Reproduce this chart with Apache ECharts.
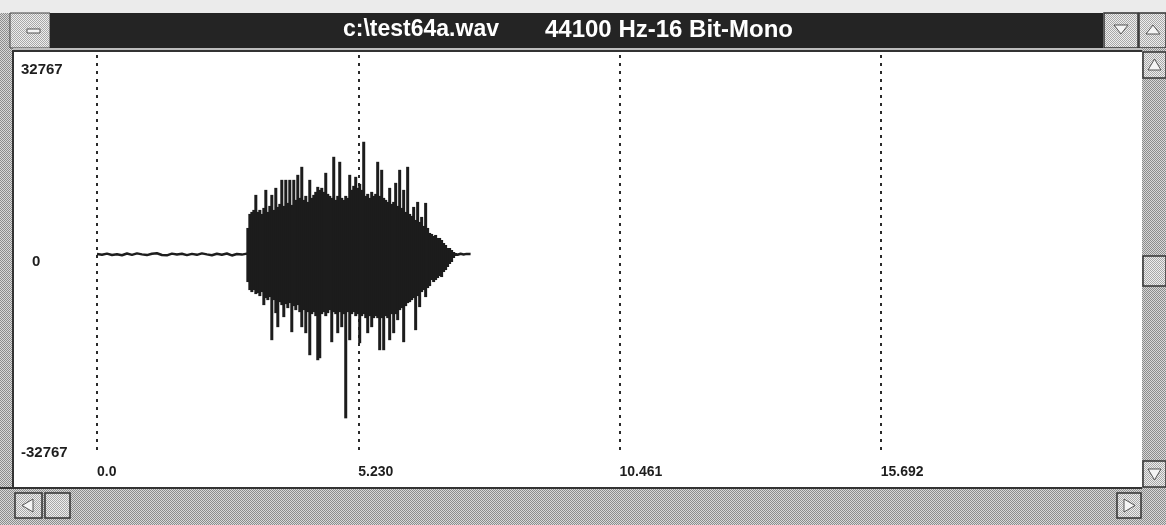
<!DOCTYPE html>
<html><head><meta charset="utf-8">
<style>html,body{margin:0;padding:0;background:#e9e9e9;overflow:hidden}#chart{width:1166px;height:525px}</style>
<script src="https://cdn.jsdelivr.net/npm/echarts@6.0.0/dist/echarts.min.js"></script>
</head><body><div id="chart"></div>
<script>
// ---- text ----
const titleFile = 'c:\\test64a.wav';
const titleFormat = '44100 Hz-16 Bit-Mono';

// ---- axes ----
const xTickLabels = ['0.0', '5.230', '10.461', '15.692'];
const xTickStep = 5.2307;
const xMax = 20.9228;
const yTickValues = [32767, 0, -32767];
const yTickLabels = ['32767', '0', '-32767'];

// ---- quiet lead-in and tail (seconds, amplitude); null breaks the line under the burst ----
const quietTime = [0.00,0.10,0.20,0.30,0.40,0.50,0.60,0.70,0.80,0.90,1.00,1.10,1.20,1.30,1.40,1.50,1.60,1.70,1.80,1.90,2.00,2.10,2.20,2.30,2.40,2.50,2.60,2.70,2.80,2.90,3.00,3.04,5.10,7.16,7.22,7.28,7.34,7.40,7.48];
const quietValue = [0,-120,60,-160,-40,-200,80,-140,100,-60,-180,40,120,-160,-220,60,-80,40,-180,20,-140,100,-60,-200,40,-120,80,-240,0,-100,60,0,null,0,-120,40,-80,20,0];

// ---- burst: sample time, upper and lower extent ----
const burstTime = [3.02,3.06,3.10,3.14,3.18,3.22,3.26,3.30,3.34,3.38,
3.42,3.46,3.50,3.54,3.58,3.62,3.66,3.70,3.74,3.78,
3.82,3.86,3.90,3.94,3.98,4.02,4.06,4.10,4.14,4.18,
4.22,4.26,4.30,4.34,4.38,4.42,4.46,4.50,4.54,4.58,
4.62,4.66,4.70,4.74,4.78,4.82,4.86,4.90,4.94,4.98,
5.02,5.06,5.10,5.14,5.18,5.22,5.26,5.30,5.34,5.38,
5.42,5.46,5.50,5.54,5.58,5.62,5.66,5.70,5.74,5.78,
5.82,5.86,5.90,5.94,5.98,6.02,6.06,6.10,6.14,6.18,
6.22,6.26,6.30,6.34,6.38,6.42,6.46,6.50,6.54,6.58,
6.62,6.66,6.70,6.74,6.78,6.82,6.86,6.90,6.94,6.98,
7.02,7.06,7.10,7.14,7.18];
const burstMax = [4290,6600,6930,7260,9735,6930,7260,6600,7590,10560,
6930,7920,9735,7260,10890,7755,8250,12210,7920,12210,
8415,12210,8085,12210,8910,13035,9240,14355,8910,9570,
8580,12210,9240,9735,10230,11055,10560,10890,10230,13365,
9900,9570,9240,16005,8910,9570,15180,9240,8910,9570,
9240,13035,10560,11220,12705,10890,11550,10560,18480,9570,
9900,9240,10230,9570,9900,15180,9570,13860,9240,8910,
8580,10890,8250,8580,11715,7920,13860,7590,10560,6930,
14355,6600,6270,7755,5610,8580,5280,6105,4620,8415,
4290,3465,3300,2970,3135,2640,2640,2310,1815,1485,
990,990,660,330,165];
const burstMin = [-4620,-5940,-6270,-5940,-6600,-6435,-6930,-6270,-8415,-7260,
-7590,-7095,-14190,-7590,-9735,-12045,-7920,-8415,-10395,-8250,
-8910,-8085,-12870,-8580,-9240,-8415,-9570,-12045,-9240,-13035,
-9570,-16665,-9900,-9570,-10230,-17490,-17160,-9900,-9570,-10230,
-9735,-9240,-14520,-9570,-9900,-13035,-9570,-12045,-9900,-27060,
-9570,-14190,-9900,-9570,-10230,-9900,-14685,-10230,-9900,-10560,
-13035,-10230,-12045,-10560,-10230,-10560,-15840,-10560,-15840,-10230,
-10560,-14190,-9900,-13035,-9900,-10890,-9240,-8910,-14520,-8580,
-8085,-7920,-7590,-7260,-12540,-6930,-8745,-6270,-5940,-7095,
-5610,-5280,-4290,-4620,-4290,-3960,-3630,-3795,-2970,-2640,
-2145,-1650,-1320,-660,-330];

// ---- window chrome helpers ----
function dither(c1, c2) {
  const cv = document.createElement('canvas');
  cv.width = 2; cv.height = 2;
  const ctx = cv.getContext('2d');
  ctx.fillStyle = c1; ctx.fillRect(0, 0, 2, 2);
  ctx.fillStyle = c2; ctx.fillRect(0, 0, 1, 1); ctx.fillRect(1, 1, 1, 1);
  return { image: cv, repeat: 'repeat' };
}
const DG = dither('#d8d8d8', '#8c8c8c');
const DL = dither('#eeeeee', '#a8a8a8');
function rect(x, y, w, h, fill, stroke, lw, z) {
  return { type: 'rect', shape: { x, y, width: w, height: h }, silent: true, z: z || -5,
    style: { fill: fill, stroke: stroke || null, lineWidth: lw || 0 } };
}
function tri(pts, z) {
  return { type: 'polygon', shape: { points: pts }, silent: true, z: z || -4,
    style: { fill: '#f4f4f4', stroke: '#555', lineWidth: 1 } };
}
const chrome = [
  rect(0, 0, 1166, 13, '#ebebeb'),
  rect(0, 13, 13, 475, DG),
  rect(10, 13, 40, 35, DL, '#444', 1),
  rect(27, 29, 13, 4, '#f2f2f2', '#555', 1, -4),
  rect(50, 13, 1053, 35, '#242424'),
  rect(1104, 13, 34, 35, DL, '#333', 1.5),
  rect(1139, 13, 27, 35, DL, '#333', 1.5),
  tri([[1114, 25], [1128, 25], [1121, 34]]),
  tri([[1146, 34], [1160, 34], [1153, 25]]),
  rect(13, 48, 1129, 2, '#bdbdbd'),
  rect(13, 50, 1129, 438, '#ffffff'),
  rect(13, 50, 1129, 2, '#333333', null, 0, -4),
  rect(12, 50, 2, 438, '#333333', null, 0, -4),
  rect(1142, 48, 24, 440, DG),
  rect(1143, 52, 23, 26, DL, '#333', 1.5, -4),
  tri([[1148, 70], [1161, 70], [1154.5, 59]], -3),
  rect(1143, 256, 23, 30, DL, '#333', 1.5, -4),
  rect(1143, 461, 23, 26, DL, '#333', 1.5, -4),
  tri([[1148, 469], [1161, 469], [1154.5, 480]], -3),
  rect(0, 488, 1166, 37, DG),
  rect(0, 487, 1142, 2, '#333333', null, 0, -4),
  rect(15, 493, 27, 25, DL, '#333', 1.5, -4),
  tri([[33, 499], [33, 512], [22, 505.5]], -3),
  rect(45, 493, 25, 25, DL, '#333', 1.5, -4),
  rect(1117, 493, 24, 25, DL, '#333', 1.5, -4),
  tri([[1124, 499], [1124, 512], [1135, 505.5]], -3)
];

const chart = echarts.init(document.getElementById('chart'), null, { renderer: 'canvas' });
const FONT = 'Liberation Sans';
chart.setOption({
  animation: false,
  backgroundColor: '#ebebeb',
  title: {
    left: 343, top: 18, padding: 0,
    text: '{a|' + titleFile + '}{b|' + titleFormat + '}',
    textStyle: {
      rich: {
        a: { color: '#ffffff', fontFamily: FONT, fontWeight: 'bold', fontSize: 23 },
        b: { color: '#ffffff', fontFamily: FONT, fontWeight: 'bold', fontSize: 24, padding: [0, 0, 0, 46] }
      }
    }
  },
  graphic: { elements: chrome },
  grid: { left: 97, right: 24, top: 55, bottom: 72, containLabel: false },
  xAxis: {
    type: 'value', min: 0, max: xMax, interval: xTickStep,
    axisLine: { show: false }, axisTick: { show: false },
    splitLine: { show: true, showMinLine: true, showMaxLine: false,
      lineStyle: { color: '#2a2a2a', width: 2, type: [3, 5] } },
    axisLabel: {
      showMaxLabel: false, align: 'left', margin: 12,
      color: '#1e1e1e', fontFamily: FONT, fontWeight: 'bold', fontSize: 14,
      formatter: (v, i) => (xTickLabels[i] !== undefined ? xTickLabels[i] : '')
    }
  },
  yAxis: {
    type: 'value', min: -32767, max: 32767, interval: 32767,
    axisLine: { show: false }, axisTick: { show: false }, splitLine: { show: false },
    axisLabel: {
      align: 'left', margin: 76, verticalAlign: 'middle',
      color: '#1e1e1e', fontFamily: FONT, fontWeight: 'bold', fontSize: 15,
      formatter: (v) => {
        const k = yTickValues.indexOf(v);
        if (k < 0) return '';
        const key = k === 0 ? 'top' : (k === 1 ? 'mid' : 'bot');
        return '{' + key + '|' + yTickLabels[k] + '}';
      },
      rich: {
        top: { color: '#1e1e1e', fontFamily: FONT, fontWeight: 'bold', fontSize: 15, padding: [30, 0, 0, 0] },
        mid: { color: '#1e1e1e', fontFamily: FONT, fontWeight: 'bold', fontSize: 15, padding: [16, 0, 0, 11] },
        bot: { color: '#1e1e1e', fontFamily: FONT, fontWeight: 'bold', fontSize: 15, padding: [0, 0, 0, 0] }
      }
    }
  },
  series: [
    {
      type: 'line', name: 'quiet', symbol: 'none', silent: true, connectNulls: false,
      data: quietTime.map((t, i) => [t, quietValue[i]]),
      lineStyle: { color: '#1e1e1e', width: 2.5 }
    },
    {
      type: 'custom', name: 'burst', silent: true,
      data: burstTime.map((t, i) => [t, burstMax[i], burstMin[i]]),
      encode: { x: 0, y: [1, 2] },
      renderItem: (params, api) => {
        const a = api.coord([api.value(0), api.value(1)]);
        const b = api.coord([api.value(0), api.value(2)]);
        return { type: 'line', shape: { x1: a[0], y1: a[1], x2: b[0], y2: b[1] },
          style: { stroke: '#1c1c1c', lineWidth: 3 } };
      }
    }
  ]
});
</script>
</body></html>
